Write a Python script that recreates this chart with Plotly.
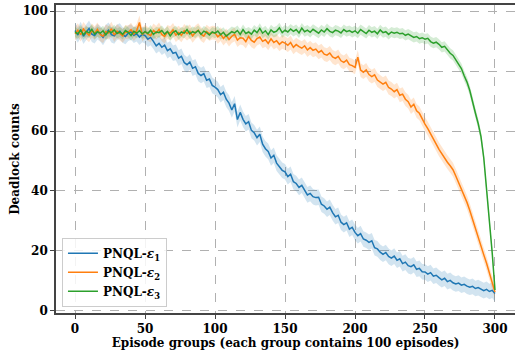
import numpy as np
import plotly.graph_objects as go

# Episode groups (every 2nd group)
groups = list(range(0, 301, 2))

eps1 = [93.5, 92.0, 93.8, 91.6, 92.9, 94.2, 92.3, 91.8, 93.1, 92.4, 91.2, 92.8, 93.6, 92.1, 91.7, 92.9, 93.3, 92.0, 91.5, 92.6, 93.0, 91.9, 92.4, 91.3, 92.2,
        91.8, 90.6, 91.2, 89.9, 88.4, 89.2, 87.9, 88.6, 86.8, 87.4, 85.9, 86.2, 84.3, 84.9, 82.8, 82.1, 83.0, 80.9, 81.4, 79.2, 78.5, 79.1, 76.9, 77.3, 75.2,
        74.6, 73.8, 72.1, 72.9, 70.6, 69.3, 67.0, 69.1, 63.8, 66.2, 63.9, 62.4, 63.1, 60.2, 59.4, 57.8, 58.9, 55.6, 54.1, 53.2, 51.0, 51.9, 49.3, 48.2, 46.9,
        46.4, 44.8, 45.6, 43.1, 42.5, 41.2, 41.9, 40.3, 38.7, 39.2, 38.1, 37.8, 37.9, 35.6, 35.0, 33.9, 34.6, 32.8, 31.4, 31.9, 29.6, 28.8, 29.4, 27.3, 27.9,
        26.2, 25.1, 25.8, 24.0, 23.6, 22.9, 23.4, 21.1, 20.7, 19.6, 18.9, 19.5, 18.2, 17.6, 18.3, 16.9, 17.4, 15.8, 16.3, 15.1, 14.8, 15.4, 13.9, 14.2, 13.1,
        13.0, 12.3, 12.8, 11.6, 11.9, 11.1, 10.4, 10.9, 9.8, 10.2, 9.4, 9.0, 9.3, 8.6, 8.9, 8.3, 7.9, 8.2, 7.5, 7.8, 7.4, 6.8, 7.2, 6.5, 6.9, 5.8]

eps2 = [92.4, 93.6, 92.1, 94.0, 92.8, 91.9, 93.5, 92.6, 93.9, 92.2, 91.6, 93.2, 92.7, 94.1, 92.0, 93.3, 92.5, 91.7, 93.0, 92.9, 93.8, 92.3, 93.4, 96.2, 92.1,
        93.1, 92.4, 91.8, 93.5, 92.7, 93.9, 92.2, 91.5, 93.0, 92.6, 93.7, 92.0, 92.8, 91.9, 93.4, 92.5, 93.2, 91.7, 92.9, 93.6, 92.3, 91.6, 93.1, 92.4, 92.8,
        92.7, 91.4, 92.3, 90.8, 91.9, 90.5, 91.6, 92.2, 90.3, 91.1, 90.9, 89.8, 91.5, 90.2, 89.6, 90.8, 91.3, 89.9, 90.4, 89.2, 90.7, 89.5, 90.1, 88.9, 89.7,
        89.3, 88.6, 89.5, 87.9, 88.8, 88.1, 87.6, 88.4, 87.0, 87.8, 86.9, 87.3, 86.2, 86.8, 85.6, 85.3, 86.0, 84.7, 84.2, 84.9, 83.4, 82.9, 83.6, 82.1, 81.8,
        81.2, 84.6, 80.3, 79.6, 80.4, 78.8, 78.1, 78.7, 77.0, 76.4, 75.6, 76.2, 74.5, 74.0, 73.1, 73.8, 71.9, 72.3, 70.6, 69.8, 68.0, 68.9, 66.7, 65.9, 64.0,
        62.3, 60.8, 58.9, 57.2, 55.6, 53.9, 52.4, 51.3, 49.6, 48.4, 47.1, 45.0, 42.8, 40.9, 38.4, 36.2, 33.5, 30.4, 27.6, 24.3, 21.4, 18.7, 15.9, 12.6, 9.4, 6.3]

eps3 = [93.0, 92.4, 93.6, 92.1, 93.2, 92.7, 93.9, 92.3, 93.1, 92.6, 93.4, 92.0, 93.3, 92.8, 93.7, 92.5, 93.0, 92.2, 93.5, 92.9, 91.8, 93.2, 92.6, 93.4, 92.4,
        93.1, 92.5, 93.6, 92.2, 93.0, 92.8, 93.5, 92.3, 93.2, 91.7, 92.9, 93.4, 92.1, 93.0, 92.6, 93.8, 92.4, 93.1, 92.7, 93.5, 92.2, 93.3, 92.8, 92.0, 93.0,
        92.6, 93.3, 92.1, 92.9, 91.6, 92.4, 93.1, 92.7, 93.5, 92.2, 93.8, 92.5, 93.0, 92.3, 93.6, 92.8, 94.2, 92.6, 93.4, 92.1, 93.7, 92.9, 93.3, 94.4, 92.8,
        93.6, 93.0, 94.0, 93.2, 93.8, 92.7, 94.3, 93.1, 93.6, 92.9, 93.9, 93.3, 92.6, 93.7, 93.0, 94.1, 93.2, 92.8, 93.6, 93.3, 92.7, 93.8, 93.1, 93.5, 92.9,
        93.4, 92.6, 93.8, 93.0, 92.5, 93.6, 92.9, 93.3, 92.4, 93.7, 92.8, 93.1, 92.2, 93.0, 92.6, 92.9, 92.4, 92.6, 91.9, 92.3, 91.7, 91.2, 91.5, 90.8, 91.1,
        90.6, 90.9, 89.8, 89.3, 89.6, 88.9, 87.9, 88.2, 86.9, 85.9, 85.2, 83.6, 82.1, 80.8, 78.4, 76.3, 73.5, 70.2, 66.0, 62.5, 58.1, 51.0, 40.5, 31.0, 19.5, 7.0]

# band half-widths (std) read from shaded areas
spread_eps1 = 2.6
spread_eps2 = 2.3
spread_eps3 = 1.7

names = ["<b>PNQL-<i>ε</i><sub>1</sub></b>", "<b>PNQL-<i>ε</i><sub>2</sub></b>", "<b>PNQL-<i>ε</i><sub>3</sub></b>"]
colors = ["#1f77b4", "#ff7f0e", "#2ca02c"]
fills = ["rgba(31,119,180,0.2)", "rgba(255,127,14,0.2)", "rgba(44,160,44,0.2)"]
series = [eps1, eps2, eps3]
spreads = [spread_eps1, spread_eps2, spread_eps3]

fig = go.Figure()
for ys, sp, c, fc in zip(series, spreads, colors, fills):
    y = np.array(ys)
    fig.add_trace(go.Scatter(x=groups, y=y + sp, mode="lines", line=dict(width=0),
                             showlegend=False, hoverinfo="skip"))
    fig.add_trace(go.Scatter(x=groups, y=y - sp, mode="lines", line=dict(width=0),
                             fill="tonexty", fillcolor=fc, showlegend=False, hoverinfo="skip"))
for ys, n, c in zip(series, names, colors):
    fig.add_trace(go.Scatter(x=groups, y=ys, mode="lines", name=n, line=dict(color=c, width=1.5)))

font_family = "DejaVu Serif"
axis_common = dict(
    showgrid=True, gridcolor="#b0b0b0", griddash="dash", gridwidth=0.8,
    showline=True, linecolor="#444444", linewidth=1.6,
    ticks="outside", ticklen=4, tickcolor="#444444", tickwidth=1.2,
    zeroline=False, automargin=False,
    tickfont=dict(family=font_family, size=12, color="black", weight="bold"),
)

fig.update_layout(
    width=515, height=353,
    margin=dict(l=56, r=0, t=5, b=40),
    paper_bgcolor="white", plot_bgcolor="white",
    font=dict(family=font_family, size=12, color="black"),
    xaxis=dict(range=[-13.6, 314.3], tickvals=[0, 50, 100, 150, 200, 250, 300], mirror=True,
               title=dict(text="Episode groups (each group contains 100 episodes)", standoff=2,
                          font=dict(family=font_family, size=12, color="black", weight="bold")),
               **axis_common),
    yaxis=dict(range=[-0.67, 102], tickvals=[0, 20, 40, 60, 80, 100],
               title=dict(text="Deadlock counts", standoff=1,
                          font=dict(family=font_family, size=12, color="black", weight="bold")),
               **axis_common),
    legend=dict(x=0.013, y=0.02, xanchor="left", yanchor="bottom", traceorder="normal",
                bgcolor="rgba(255,255,255,0.85)", bordercolor="#cccccc", borderwidth=1,
                font=dict(family=font_family, size=12, color="black"),
                tracegroupgap=0, itemwidth=30),
    showlegend=True,
)

fig.write_html("out.html", config={"displayModeBar": False},
               post_script="document.body.style.margin='0';document.body.style.padding='0';")
